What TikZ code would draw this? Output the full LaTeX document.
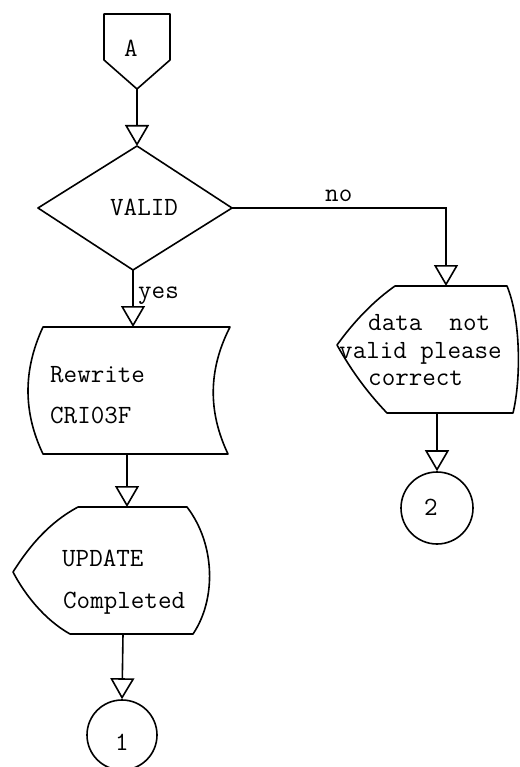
\documentclass[tikz,border=0pt]{standalone}
\usepackage{fontspec}
\usetikzlibrary{arrows.meta}
\begin{document}
\begin{tikzpicture}[x=1pt,y=-1pt,
  shp/.style={draw=black, line width=1.6pt, line join=round},
  conn/.style={draw=black, line width=1.6pt, -{Triangle[open,width=24pt,length=21pt]}},
  txt/.style={font=\ttfamily\fontsize{26.3}{30}\selectfont, inner sep=0pt, anchor=base west},
  ctxt/.style={txt, anchor=base},
  conncircle/.style={circle, draw=black, line width=1.6pt, inner sep=0pt},
]
\useasboundingbox (0,0) rectangle (519,767);

% anchor coordinates
\coordinate (As) at (137,89);
\coordinate (Vn) at (137,146);
\coordinate (Ve) at (232,208);
\coordinate (Vs) at (133,270);
\coordinate (Vw) at (38,208);
\coordinate (Rn) at (133,327);
\coordinate (Rs) at (127,454);
\coordinate (Un) at (127,507);
\coordinate (Us) at (123,634);
\coordinate (Dn) at (446,286);
\coordinate (Ds) at (437,413);

% off-page connector A
\draw[shp] (104,14) -- (170,14) -- (170,60) -- (As) -- (104,60) -- cycle;
\node[ctxt] (A) at (131,57) {A};

% decision VALID
\draw[shp] (Vn) -- (Ve) -- (Vs) -- (Vw) -- cycle;
\node[txt] (valid) at (110,215) {VALID};

% stored data: Rewrite CRI03F
\draw[shp] (43,327) -- (230,327) .. controls (208,370) and (208,412) .. (228,454)
  -- (43,454) .. controls (23,412) and (23,370) .. (43,327) -- cycle;
\node[txt] (rw1) at (50,382) {Rewrite};
\node[txt] (rw2) at (50,423) {CRI03F};

% display: UPDATE Completed
\draw[shp] (78,507) -- (187,507) .. controls (216,545) and (216,600) .. (193,634)
  -- (70,634) .. controls (45,620) and (25,595) .. (13,572)
  .. controls (30,545) and (50,522) .. (78,507) -- cycle;
\node[txt] (up1) at (62,566) {UPDATE};
\node[txt] (up2) at (63,608) {Completed};

% display: data not valid please correct
\draw[shp] (395,286) -- (507,286) .. controls (521,320) and (521,380) .. (513,413)
  -- (387,413) .. controls (365,390) and (350,368) .. (337,345)
  .. controls (355,320) and (375,300) .. (395,286) -- cycle;
\node[txt] (d1) at (368,330) {data\ \ not};
\node[txt] (d2) at (339,358) {valid please};
\node[txt] (d3) at (368,385) {correct};

% on-page connectors
\node[conncircle, minimum size=70pt] (c1) at (122,735) {};
\node[ctxt] (one) at (122,750) {1};
\node[conncircle, minimum size=72pt] (c2) at (437,508) {};
\node[ctxt] (two) at (431,515) {2};

% connectors
\draw[conn] (As) -- (Vn);
\draw[conn] (Vs) -- (Rn);
\draw[conn] (Rs) -- (Un);
\draw[conn] (Us) -- (c1.north);
\draw[conn] (Ve) -| (Dn);
\draw[conn] (Ds) -- (c2.north);

% labels
\node[txt] (yes) at (138,298) {yes};
\node[txt] (no) at (325,202) {no};
\end{tikzpicture}
\end{document}
